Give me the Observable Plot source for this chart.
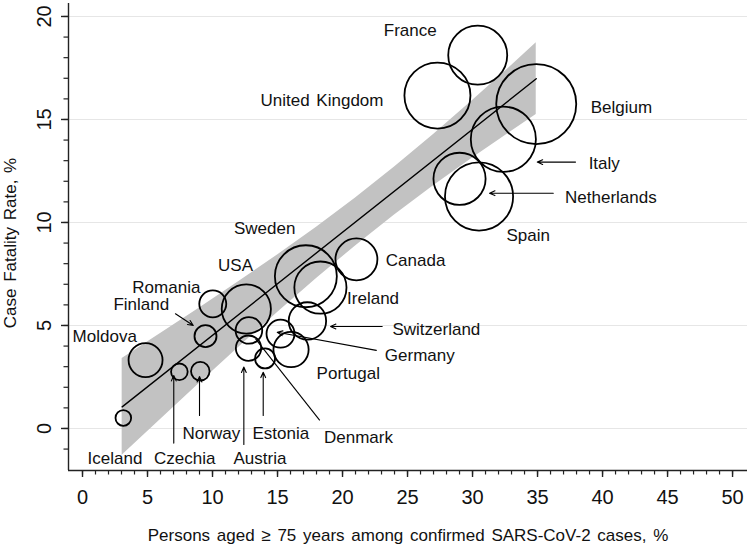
<!DOCTYPE html>
<html>
<head>
<meta charset="utf-8">
<script src="https://cdn.jsdelivr.net/npm/d3@7"></script>
<script src="https://cdn.jsdelivr.net/npm/@observablehq/plot@0.6"></script>
<style>
  html, body { margin: 0; padding: 0; background: #fff; }
  #chart svg { display: block; }
</style>
</head>
<body>
<div id="chart"></div>
<script>
// ---- Data ----
const countries = ["France","United Kingdom","Belgium","Italy","Netherlands","Spain","Canada","Sweden","Ireland","Switzerland","Germany","Portugal","Estonia","Denmark","Austria","USA","Romania","Finland","Moldova","Norway","Czechia","Iceland"];
// persons aged >= 75 among confirmed cases, %
const pctOld = [30.4, 27.3, 34.9, 32.37, 29.0, 30.5, 21.07, 17.18, 18.3, 17.3, 15.23, 16.04, 14.04, 12.8, 12.77, 12.6, 10.02, 9.46, 4.85, 9.06, 7.45, 3.14];
// case fatality rate, %
const cfr = [18.12, 16.16, 15.75, 14.04, 12.12, 11.26, 8.21, 7.39, 6.84, 5.22, 4.6, 3.83, 3.4, 4.76, 3.9, 5.8, 6.05, 4.48, 3.32, 2.78, 2.75, 0.51];
// relative bubble weight
const weight = [8.7, 10.9, 16.0, 10.6, 6.8, 11.6, 4.4, 9.6, 6.8, 3.5, 1.96, 3.1, 1.0, 1.77, 1.6, 6.05, 1.82, 1.21, 2.89, 0.86, 0.69, 0.61];

// label anchor points (data units)
const labelX = [25.21, 18.42, 41.45, 40.13, 40.64, 34.28, 25.62, 14.01, 22.35, 27.22, 25.94, 20.44, 15.25, 21.23, 13.65, 11.77, 6.45, 4.52, 1.71, 9.91, 7.86, 2.5];
const labelY = [19.32, 15.92, 15.56, 12.88, 11.22, 9.37, 8.13, 9.69, 6.3, 4.81, 3.55, 2.67, -0.26, -0.46, -1.47, 7.91, 6.86, 6.03, 4.45, -0.26, -1.47, -1.47];

// pointer arrows (data units)
const arrowFrom = ["Italy","Netherlands","Finland","Czechia","Norway","Austria","Estonia","Switzerland","Germany"];
const arrowX1 = [37.92, 36.21, 7.15, 7.02, 9.0, 12.41, 13.9, 23.05, 22.6];
const arrowY1 = [12.93, 11.42, 5.57, -0.71, 0.63, -0.78, 0.63, 4.95, 3.79];
const arrowX2 = [34.98, 31.31, 8.52, 7.02, 9.0, 12.41, 13.9, 19.08, 14.98];
const arrowY2 = [12.93, 11.42, 5.0, 2.57, 2.52, 2.98, 2.73, 4.95, 4.67];
// Denmark leader line
const leaderX1 = [18.25], leaderY1 = [0.39], leaderX2 = [13.31], leaderY2 = [4.35];

// fitted line and 95% CI band
const fitX = [3.05, 34.9];
const fitY = [1.05, 16.975];
const bandX  = [3.05, 6, 9, 12, 15, 18, 21, 24, 27, 30, 33, 34.9];
const bandLo = [-1.30, 0.44, 2.20, 3.93, 5.63, 7.28, 8.86, 10.36, 11.78, 13.13, 14.43, 15.24];
const bandHi = [3.40, 4.61, 5.85, 7.12, 8.42, 9.77, 11.19, 12.69, 14.27, 15.92, 17.62, 18.72];

// axes
const xTicks = [0, 5, 10, 15, 20, 25, 30, 35, 40, 45, 50];
const xMinor = d3.range(0, 51, 1);
const yTicks = [0, 5, 10, 15, 20];
const yMinor = d3.range(-1, 21, 1);
const xDomain = [-1.077, 51.15];
const yDomain = [-2.04, 20.63];
const xTitle = "Persons aged \u2265 75 years among confirmed SARS-CoV-2 cases, %";
const yTitle = "Case Fatality Rate, %";

// ---- Build tables ----
const points = countries.map((c, i) => ({name: c, x: pctOld[i], y: cfr[i], w: weight[i], lx: labelX[i], ly: labelY[i]}));
const arrows = arrowFrom.map((c, i) => ({name: c, x1: arrowX1[i], y1: arrowY1[i], x2: arrowX2[i], y2: arrowY2[i]}));
const leaders = leaderX1.map((d, i) => ({x1: leaderX1[i], y1: leaderY1[i], x2: leaderX2[i], y2: leaderY2[i]}));
const band = bandX.map((x, i) => ({x, lo: bandLo[i], hi: bandHi[i]}));
const fit = fitX.map((x, i) => ({x, y: fitY[i]}));

const font = "'Liberation Sans', Arial, Helvetica, sans-serif";

const chart = Plot.plot({
  width: 752,
  height: 551,
  marginLeft: 68,
  marginRight: 5,
  marginTop: 3,
  marginBottom: 81,
  style: {fontFamily: font, fontSize: "17px", color: "#111", background: "#fff"},
  x: {domain: xDomain, label: null},
  y: {domain: yDomain, label: null},
  r: {type: "sqrt", domain: [0, 16], range: [0, 40]},
  marks: [
    Plot.ruleY(yTicks, {stroke: "#e6e6e6", strokeWidth: 1}),
    Plot.areaY(band, {x: "x", y1: "lo", y2: "hi", fill: "#c2c2c2", curve: "linear"}),
    Plot.line(fit, {x: "x", y: "y", stroke: "#000", strokeWidth: 1.4}),
    Plot.dot(points, {x: "x", y: "y", r: "w", fill: "none", stroke: "#000", strokeWidth: 1.8}),
    Plot.text(points, {x: "lx", y: "ly", text: "name", fontSize: 17, fill: "#111", textAnchor: "middle", lineAnchor: "middle"}),
    Plot.arrow(arrows, {x1: "x1", y1: "y1", x2: "x2", y2: "y2", stroke: "#000", strokeWidth: 1.1, headLength: 8, headAngle: 48}),
    Plot.link(leaders, {x1: "x1", y1: "y1", x2: "x2", y2: "y2", stroke: "#000", strokeWidth: 1.1}),
    // axis lines
    Plot.ruleX([xDomain[0]], {stroke: "#222", strokeWidth: 1.4}),
    Plot.ruleY([yDomain[0]], {stroke: "#222", strokeWidth: 1.4}),
    // x axis ticks & labels
    Plot.axisX({ticks: xMinor, tickSize: 4.5, tickFormat: () => "", stroke: "#222", strokeWidth: 1.2, label: null}),
    Plot.axisX({ticks: xTicks, tickSize: 7, tickPadding: 12, fontSize: 20, stroke: "#222", strokeWidth: 1.4, fill: "#111", label: null}),
    // y axis ticks
    Plot.axisY({ticks: yMinor, tickSize: 4.5, tickFormat: () => "", stroke: "#222", strokeWidth: 1.2, label: null}),
    Plot.axisY({ticks: yTicks, tickSize: 7, tickFormat: () => "", stroke: "#222", strokeWidth: 1.4, label: null}),
    // y tick labels (rotated)
    Plot.text(yTicks, {y: d => d, text: d => String(d), frameAnchor: "left", dx: -24, rotate: -90, fontSize: 20, fill: "#111", textAnchor: "middle", lineAnchor: "middle"}),
    // axis titles
    Plot.text([xTitle], {frameAnchor: "bottom", dy: 65, fontSize: 17, fill: "#111", textAnchor: "middle", lineAnchor: "middle"}),
    Plot.text([yTitle], {frameAnchor: "left", dx: -58, dy: 6, rotate: -90, fontSize: 17, fill: "#111", textAnchor: "middle", lineAnchor: "middle"})
  ]
});
document.getElementById("chart").appendChild(chart);
// a touch of extra word spacing like the original's typesetting
chart.querySelectorAll("text").forEach(t => t.setAttribute("word-spacing", "2"));
</script>
</body>
</html>
